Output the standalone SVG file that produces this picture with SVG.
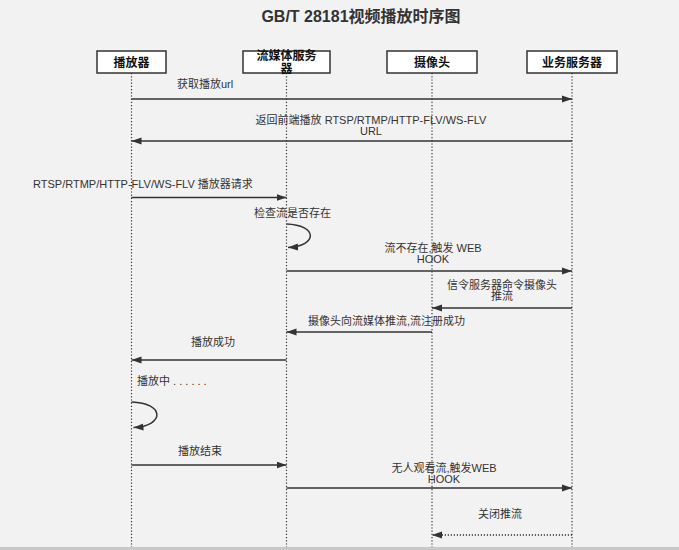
<svg xmlns="http://www.w3.org/2000/svg" width="679" height="550" viewBox="0 0 679 550">
<style>
text{font-family:"Liberation Sans","Noto Sans CJK SC",sans-serif;fill:#333;}
.title{font-size:16px;font-weight:bold;fill:#333;}
.hdr{font-size:12px;font-weight:bold;fill:#111;text-anchor:middle;}
.box{fill:#fff;stroke:#333;stroke-width:1.5;}
.life{stroke:#333;stroke-width:1.2;stroke-dasharray:1.2 2;fill:none;}
.msg{stroke:#333;stroke-width:1.5;fill:none;marker-end:url(#ah);}
.dot{stroke:#333;stroke-width:1.5;stroke-dasharray:1.2 1.8;fill:none;marker-end:url(#ah);}
.lbl{font-size:11px;}
.c{text-anchor:middle;}
</style>
<defs>
<marker id="ah" markerUnits="userSpaceOnUse" markerWidth="11" markerHeight="8" refX="10" refY="4" orient="auto">
<path d="M0,0.5 L10,4 L0,7.5 Z" fill="#333"/>
</marker>
</defs>
<rect x="0" y="0" width="679" height="550" fill="#f2f2f2"/>
<rect x="0" y="547" width="679" height="3" fill="#c8c8c8"/>
<text class="title" x="361" y="22" text-anchor="middle">GB/T 28181视频播放时序图</text>

<g id="player">
<line class="life" x1="131.5" y1="73" x2="131.5" y2="547"/>
<rect class="box" x="97" y="51" width="69" height="22"/>
<text class="hdr" x="131.5" y="66.5">播放器</text>
</g>
<g id="media-server">
<line class="life" x1="286.5" y1="73" x2="286.5" y2="547"/>
<rect class="box" x="243" y="51" width="87" height="22"/>
<text class="hdr" x="286.5" y="59.5">流媒体服务</text>
<text class="hdr" x="286.5" y="73">器</text>
</g>
<g id="camera">
<line class="life" x1="432" y1="73" x2="432" y2="547"/>
<rect class="box" x="387" y="51" width="90" height="22"/>
<text class="hdr" x="432" y="66.5">摄像头</text>
</g>
<g id="biz-server">
<line class="life" x1="572" y1="73" x2="572" y2="547"/>
<rect class="box" x="527" y="51" width="90" height="22"/>
<text class="hdr" x="572" y="66.5">业务服务器</text>
</g>

<g id="connectors">
<line class="msg" x1="131.5" y1="99" x2="572" y2="99"/>
<text class="lbl" x="177" y="88">获取播放url</text>

<line class="msg" x1="572" y1="141" x2="131.5" y2="141"/>
<text class="lbl c" x="371" y="124">返回前端播放 RTSP/RTMP/HTTP-FLV/WS-FLV</text>
<text class="lbl c" x="371" y="135">URL</text>

<line class="msg" x1="131.5" y1="197.5" x2="286.5" y2="197.5"/>
<text class="lbl" x="33" y="187.5">RTSP/RTMP/HTTP-FLV/WS-FLV 播放器请求</text>

<path class="msg" d="M286.5,224 C318,225 318,246 288,247.5"/>
<text class="lbl" x="254" y="217">检查流是否存在</text>

<line class="msg" x1="286.5" y1="271" x2="572" y2="271"/>
<text class="lbl c" x="433" y="252">流不存在,触发 WEB</text>
<text class="lbl c" x="433" y="263">HOOK</text>

<line class="msg" x1="572" y1="308" x2="432" y2="308"/>
<text class="lbl c" x="502" y="289">信令服务器命令摄像头</text>
<text class="lbl c" x="502" y="300">推流</text>

<line class="msg" x1="432" y1="332" x2="286.5" y2="332"/>
<text class="lbl" x="308" y="325">摄像头向流媒体推流,流注册成功</text>

<line class="msg" x1="286.5" y1="360" x2="131.5" y2="360"/>
<text class="lbl c" x="213" y="346">播放成功</text>

<text class="lbl" x="137" y="385">播放中 . . . . . .</text>
<path class="msg" d="M131.5,402 C165,403 165,426 133.5,427.5"/>

<line class="msg" x1="131.5" y1="465" x2="286.5" y2="465"/>
<text class="lbl c" x="200" y="455">播放结束</text>

<line class="msg" x1="286.5" y1="488" x2="572" y2="488"/>
<text class="lbl c" x="444" y="472">无人观看流,触发WEB</text>
<text class="lbl c" x="444" y="483">HOOK</text>

<line class="dot" x1="572" y1="535" x2="432" y2="535"/>
<text class="lbl c" x="500" y="518">关闭推流</text>
</g>
</svg>
